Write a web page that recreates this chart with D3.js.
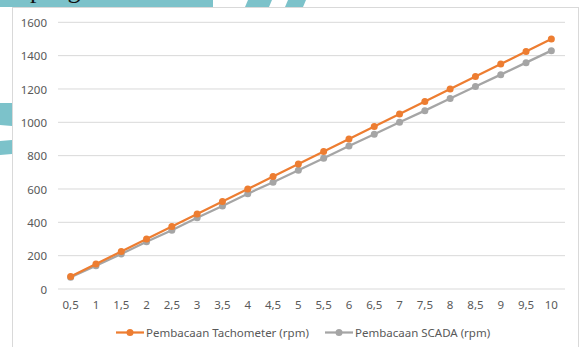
<!DOCTYPE html>
<html><head><meta charset="utf-8">
<script src="https://cdn.jsdelivr.net/npm/d3@7"></script>
<style>body{margin:0;background:#fff;}svg{display:block;font-family:"Noto Sans",sans-serif;}</style>
</head><body>
<svg id="c" width="580" height="347"></svg>
<script>
const categories = ["0,5","1","1,5","2","2,5","3","3,5","4","4,5","5","5,5","6","6,5","7","7,5","8","8,5","9","9,5","10"];
const tachometer = [75,150,225,300,375,450,525,600,675,750,825,900,975,1050,1125,1200,1275,1350,1425,1500];
const scada = [70,140,210,283,352,428,498,572,640,712,785,858,928,1000,1070,1143,1215,1286,1358,1430];
const yTicks = [0,200,400,600,800,1000,1200,1400,1600];
const seriesNames = ["Pembacaan Tachometer (rpm)","Pembacaan SCADA (rpm)"];
const colors = ["#ED7D31","#A5A5A5"];

const svg = d3.select("#c");
// background decoration
const teal = "#7CC2CA";
svg.append("rect").attr("x",0).attr("y",0).attr("width",213).attr("height",7).attr("fill",teal);
svg.append("polygon").attr("points","248,0 272,0 269,7 245,7").attr("fill",teal);
svg.append("polygon").attr("points","288,0 306,0 303,7 285,7").attr("fill",teal);
svg.append("polygon").attr("points","0,103 12,103 12,126 0,125").attr("fill",teal);
svg.append("polygon").attr("points","0,141 12,140 12,154 0,155").attr("fill",teal);
svg.append("text").attr("x",30).attr("y",-2).attr("font-family","Liberation Serif").attr("font-size",26).attr("fill","#111").text("pengan");
// chart area
svg.append("rect").attr("x",12.5).attr("y",7.5).attr("width",566).attr("height",345).attr("fill","#fff").attr("stroke","#D9D9D9");

const x = d3.scaleBand().domain(categories).range([58,564]);
const y = d3.scaleLinear().domain([0,1600]).range([289,22.3]);

const g = svg.append("g");
g.selectAll("line.grid").data(yTicks).join("line").attr("class","grid")
 .attr("x1",58).attr("x2",565).attr("y1",d=>y(d)).attr("y2",d=>y(d))
 .attr("stroke","#D9D9D9").attr("stroke-width",1);

const fs = 11.5;
const yAxis = d3.axisLeft(y).tickValues(yTicks).tickSize(0).tickPadding(0).tickFormat(d3.format("d"));
const ya = svg.append("g").attr("transform","translate(47,0)").call(yAxis);
ya.select(".domain").remove();
ya.selectAll("text").attr("fill","#595959").attr("font-size",fs).attr("font-family","Noto Sans, sans-serif").attr("dy","0.35em");

const xAxis = d3.axisBottom(x).tickSize(0).tickPadding(0);
const xa = svg.append("g").attr("transform","translate(0,300)").call(xAxis);
xa.select(".domain").remove();
xa.selectAll("text").attr("fill","#595959").attr("font-size",fs).attr("font-family","Noto Sans, sans-serif").attr("dy","0.35em").attr("y",5);

const cx = c => x(c) + x.bandwidth()/2;
const series = [scada, tachometer];
const scol = [colors[1], colors[0]];
series.forEach((vals,i)=>{
  const line = d3.line().x((d,j)=>cx(categories[j])).y(d=>y(d));
  svg.append("path").datum(vals).attr("d",line).attr("fill","none").attr("stroke",scol[i]).attr("stroke-width",2.25);
  svg.append("g").selectAll("circle").data(vals).join("circle")
   .attr("cx",(d,j)=>cx(categories[j])).attr("cy",d=>y(d)).attr("r",3.5).attr("fill",scol[i]);
});

// legend
const legX = [116,325];
seriesNames.forEach((n,i)=>{
  const lg = svg.append("g");
  lg.append("line").attr("x1",legX[i]).attr("x2",legX[i]+28).attr("y1",332.5).attr("y2",332.5).attr("stroke",colors[i]).attr("stroke-width",2.25);
  lg.append("circle").attr("cx",legX[i]+14).attr("cy",332.5).attr("r",3.5).attr("fill",colors[i]);
  lg.append("text").attr("x",legX[i]+30).attr("y",332.5).attr("dy","0.35em").attr("fill","#595959").attr("font-size",fs).text(n);
});
</script>
</body></html>
